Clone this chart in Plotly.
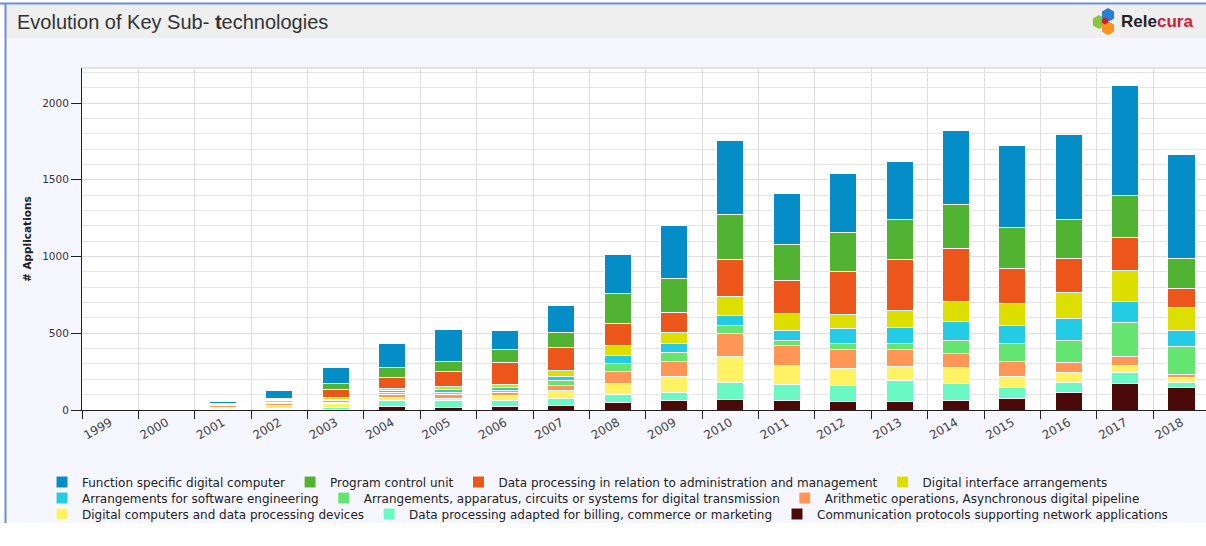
import plotly.graph_objects as go

years = [str(y) for y in range(1999, 2019)]

comm_protocols = [0, 0, 2, 2, 3, 20, 14, 22, 31, 48, 63, 70, 65, 54, 54, 65, 76, 115, 174, 145]
billing = [0, 0, 10, 8, 15, 40, 50, 38, 43, 50, 50, 110, 100, 105, 139, 109, 68, 65, 72, 37]
digital_computers = [0, 0, 4, 22, 22, 22, 10, 32, 52, 76, 104, 167, 126, 110, 89, 106, 76, 66, 47, 31]
arithmetic = [0, 0, 14, 8, 12, 18, 25, 20, 35, 78, 102, 153, 130, 124, 111, 89, 95, 65, 54, 20]
transmission = [0, 0, 3, 6, 8, 15, 18, 18, 30, 52, 57, 52, 31, 43, 43, 81, 115, 145, 220, 179]
software_eng = [0, 0, 3, 6, 8, 12, 15, 17, 30, 52, 58, 65, 69, 94, 103, 125, 120, 139, 139, 105]
digital_interface = [0, 0, 2, 10, 12, 12, 20, 22, 35, 63, 70, 121, 106, 95, 108, 129, 145, 169, 206, 154]
admin = [0, 0, 4, 6, 54, 76, 100, 142, 152, 146, 134, 244, 218, 276, 335, 351, 228, 224, 211, 122]
program_control = [0, 0, 2, 10, 39, 65, 63, 80, 96, 191, 220, 290, 230, 257, 262, 285, 267, 250, 276, 191]
function_specific = [0, 0, 10, 48, 104, 152, 211, 128, 176, 258, 345, 481, 337, 384, 374, 484, 532, 558, 718, 682]

# bottom of stack first: (name, values, colour, legend, rank)
series = [
    ("Communication protocols supporting network applications", comm_protocols, "#4A0A0A", "legend3", 3),
    ("Data processing adapted for billing, commerce or marketing", billing, "#6AF9C4", "legend3", 2),
    ("Digital computers and data processing devices", digital_computers, "#FFF263", "legend3", 1),
    ("Arithmetic operations, Asynchronous digital pipeline", arithmetic, "#FF9655", "legend2", 3),
    ("Arrangements, apparatus, circuits or systems for digital transmission", transmission, "#64E572", "legend2", 2),
    ("Arrangements for software engineering", software_eng, "#24CBE5", "legend2", 1),
    ("Digital interface arrangements", digital_interface, "#DDDF00", "legend", 4),
    ("Data processing in relation to administration and management", admin, "#ED561B", "legend", 3),
    ("Program control unit", program_control, "#50B432", "legend", 2),
    ("Function specific digital computer", function_specific, "#058DC7", "legend", 1),
]

fig = go.Figure()
for name, vals, col, lg, rank in series:
    fig.add_trace(go.Bar(
        x=years, y=vals, name=name, marker=dict(color=col, line=dict(color="white", width=1)),
        legend=lg, legendrank=rank,
    ))

W, H = 1206, 546
ML, MR, MT, MB = 82, 0, 68, 136
PW, PH = W - ML - MR, H - MT - MB


def px(x):
    return (x - ML) / PW


def py(y):
    return (H - MB - y) / PH


shapes = [
    # panel background
    dict(type="rect", xref="paper", yref="paper", x0=px(6), x1=px(1210), y0=py(523), y1=py(4),
         fillcolor="#F6F6FE", line=dict(width=0), layer="below"),
    # title bar
    dict(type="rect", xref="paper", yref="paper", x0=px(6), x1=px(1210), y0=py(38), y1=py(5),
         fillcolor="#EFEFEF", line=dict(width=0), layer="below"),
    # plot area
    dict(type="rect", xref="paper", yref="paper", x0=0, x1=1, y0=0, y1=1,
         fillcolor="white", line=dict(width=0), layer="below"),
    # borders
    dict(type="line", xref="paper", yref="paper", x0=px(0), x1=px(1210), y0=py(3.5), y1=py(3.5),
         line=dict(color="#6A8FD6", width=2)),
    dict(type="line", xref="paper", yref="paper", x0=px(5.5), x1=px(5.5), y0=py(3), y1=py(523),
         line=dict(color="#6A8FD6", width=2)),
    dict(type="line", xref="paper", yref="paper", x0=0, x1=1, y0=1, y1=1,
         line=dict(color="#CCCCCC", width=1)),
]


def hexagon(cx, cy, r, color):
    import math
    pts = []
    for k in range(6):
        a = math.pi / 6 + k * math.pi / 3
        pts.append((px(cx + r * math.cos(a)), py(cy + r * math.sin(a))))
    path = "M " + " L ".join(f"{x:.5f},{y:.5f}" for x, y in pts) + " Z"
    return dict(type="path", xref="paper", yref="paper", path=path, fillcolor=color,
                line=dict(width=0))


shapes += [
    hexagon(1099, 22, 7, "#8CC63F"),
    hexagon(1108, 15, 7, "#2A7FD4"),
    hexagon(1108, 28, 7, "#F7941D"),
    hexagon(1105, 21, 3.5, "#D0202F"),
]

annotations = [
    dict(xref="paper", yref="paper", x=px(15), y=py(22), xanchor="left", yanchor="middle",
         text="Evolution of Key Sub- <b>t</b>echnologies", showarrow=False,
         font=dict(family="Liberation Sans, Arial", size=20, color="#333333")),
    dict(xref="paper", yref="paper", x=px(1119), y=py(21), xanchor="left", yanchor="middle",
         text="<b>Rele</b><b><span style='color:#D0202F'>cura</span></b>", showarrow=False,
         font=dict(family="Liberation Sans, Arial", size=17, color="#222222")),
    dict(xref="paper", yref="paper", x=px(27), y=py(239), xanchor="center", yanchor="middle",
         text="<b># Applications</b>", textangle=-90, showarrow=False,
         font=dict(family="DejaVu Sans", size=10.5, color="#222222")),
]

legend_font = dict(family="DejaVu Sans", size=12, color="#222222")
leg_common = dict(orientation="h", xanchor="left", yanchor="middle", bgcolor="rgba(0,0,0,0)",
                  font=legend_font, borderwidth=0, itemwidth=30, traceorder="normal")

fig.update_layout(
    width=W, height=H,
    margin=dict(l=ML, r=MR, t=MT, b=MB),
    barmode="stack", bargap=0.52,
    paper_bgcolor="white", plot_bgcolor="rgba(0,0,0,0)",
    showlegend=True,
    legend=dict(x=px(42), y=py(482), **leg_common),
    legend2=dict(x=px(42), y=py(498), **leg_common),
    legend3=dict(x=px(42), y=py(514), **leg_common),
    shapes=shapes, annotations=annotations,
    xaxis=dict(type="category", range=[-0.5, 19.435], tickson="boundaries", tickangle=-30,
               showgrid=True, gridcolor="#DDDDDD", showline=True, linecolor="#222222",
               ticks="outside", ticklen=8, tickcolor="#222222",
               tickfont=dict(family="DejaVu Sans", size=12, color="#444444")),
    yaxis=dict(range=[0, 2228], tick0=0, dtick=500, showgrid=True, gridcolor="#DDDDDD",
               minor=dict(dtick=100, showgrid=True, gridcolor="#E4E4E4"),
               showline=True, linecolor="#222222", ticks="outside", ticklen=10,
               tickcolor="#222222", zeroline=False,
               tickfont=dict(family="DejaVu Sans", size=10.5, color="#333333")),
    font=dict(family="DejaVu Sans"),
)

fig.write_html("out.html", config={"displayModeBar": False},
               post_script="document.body.style.margin='0px';")
